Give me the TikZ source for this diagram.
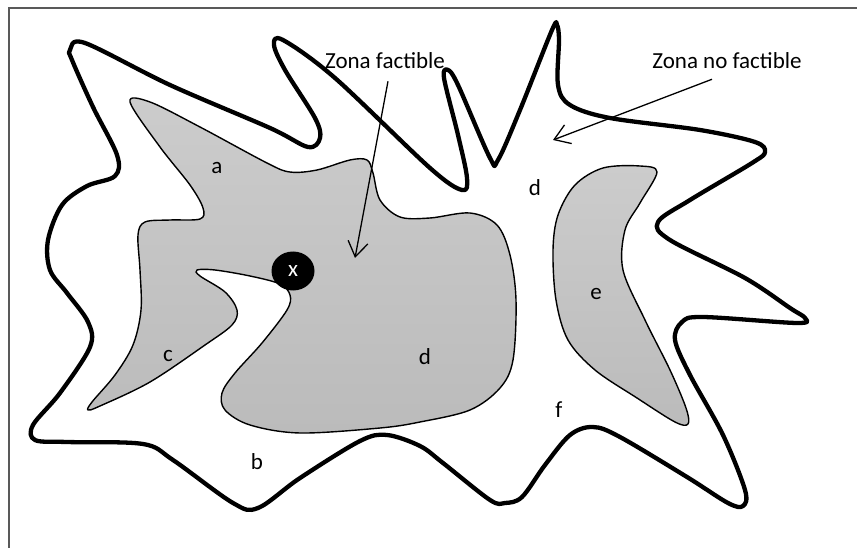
\documentclass[tikz,border=0pt]{standalone}
\usepackage{fontspec}
\setmainfont{Carlito}
\usetikzlibrary{arrows.meta,shapes.geometric}
\definecolor{grey700}{HTML}{595959}
\definecolor{grey300}{HTML}{CCCCCC}
\definecolor{grey400}{HTML}{BBBBBB}
\tikzset{
  frame/.style ={draw=grey700, line width=2pt},
  border/.style={draw=black, line width=4.3pt, line join=round},
  region/.style={draw=black, line width=1.4pt, line join=round,
                 top color=grey300, bottom color=grey400},
  lbl/.style   ={font=\fontsize{23}{27}\selectfont, inner sep=3pt},
  dot/.style   ={ellipse, fill=black, text=white, inner sep=0pt,
                 minimum width=43pt, minimum height=39pt,
                 font=\fontsize{23}{27}\selectfont},
  ar/.style    ={-{Straight Barb[length=15pt,width=20pt]}, line width=1.3pt}
}
\begin{document}
\begin{tikzpicture}[x=1pt, y=-1pt]
\useasboundingbox (0,0) rectangle (857,548);
\draw[frame] (9,548) -- (9,8) -- (857,8);

% outer limit of the search space
\draw[border] plot[smooth cycle, tension=0.55] coordinates {
  (70,50) (85,43) (170,85) (270,128) (308,147) (320,138) (315,118)
  (285,70) (274,45) (283,40) (335,78) (430,168) (462,190) (467,178)
  (458,135) (444,78) (448,70) (458,85) (490,158) (498,160) (520,110)
  (552,30) (557,25) (559,40) (558,85) (570,105) (610,118) (700,130)
  (755,142) (765,152) (752,163) (690,200) (658,222) (670,240) (745,278)
  (790,308) (805,318) (797,323) (703,317) (682,322) (675,340) (690,375)
  (723,435) (745,490) (743,506) (728,503) (687,477) (620,437) (593,427)
  (570,435) (545,465) (522,497) (505,503) (490,500) (443,463) (420,446)
  (387,435) (360,441) (300,478) (258,508) (233,503) (173,460) (143,444)
  (67,442) (35,440) (33,425) (60,393) (90,347) (88,322) (67,293)
  (50,270) (48,240) (62,205) (87,186) (115,176) (117,155) (93,107)
  (72,60)};

\path[region] plot[smooth cycle, tension=0.55] coordinates {
  (130,102) (150,102) (200,127) (267,163) (290,172) (317,170) (350,160)
  (367,160) (373,173) (380,200) (400,217) (430,218) (470,213) (497,225)
  (510,255) (516,300) (513,360) (500,388) (470,410) (420,422) (380,428)
  (300,433) (250,425) (225,410) (222,393) (235,373) (262,343) (287,310)
  (290,295) (280,284) (250,276) (215,270) (197,270) (200,276) (225,292)
  (237,310) (232,325) (205,345) (150,382) (100,406) (88,410) (92,402)
  (115,375) (133,345) (141,310) (140,270) (138,235) (145,222) (170,220)
  (200,219) (203,208) (190,185) (160,147)};
\path[region] plot[smooth cycle, tension=0.55] coordinates {
  (657,172) (640,166) (603,168) (575,185) (558,215) (553,250) (556,300)
  (568,340) (595,370) (637,398) (675,422) (688,424) (686,408) (670,370)
  (645,320) (623,270) (625,230) (640,203)};

\node[dot] (xpt) at (293,271) {x};
\node[lbl] (la)  at (217,168) {a};
\node[lbl] (ld1) at (535,188) {d};
\node[lbl] (le)  at (596,294) {e};
\node[lbl] (lc)  at (168,356) {c};
\node[lbl] (ld2) at (425,357) {d};
\node[lbl] (lf)  at (559,410) {f};
\node[lbl] (lb)  at (257,462) {b};

\node[lbl] (zf)  at (385,61)  {Zona factible};
\node[lbl] (znf) at (727,61)  {Zona no factible};
\coordinate (zfTip)  at (355,258);
\coordinate (znfTip) at (553,140);
\draw[ar] ([xshift=3pt,yshift=-9pt]zf.south) -- (zfTip);
\draw[ar] ([xshift=-15pt,yshift=-7pt]znf.south) -- (znfTip);
\end{tikzpicture}
\end{document}
